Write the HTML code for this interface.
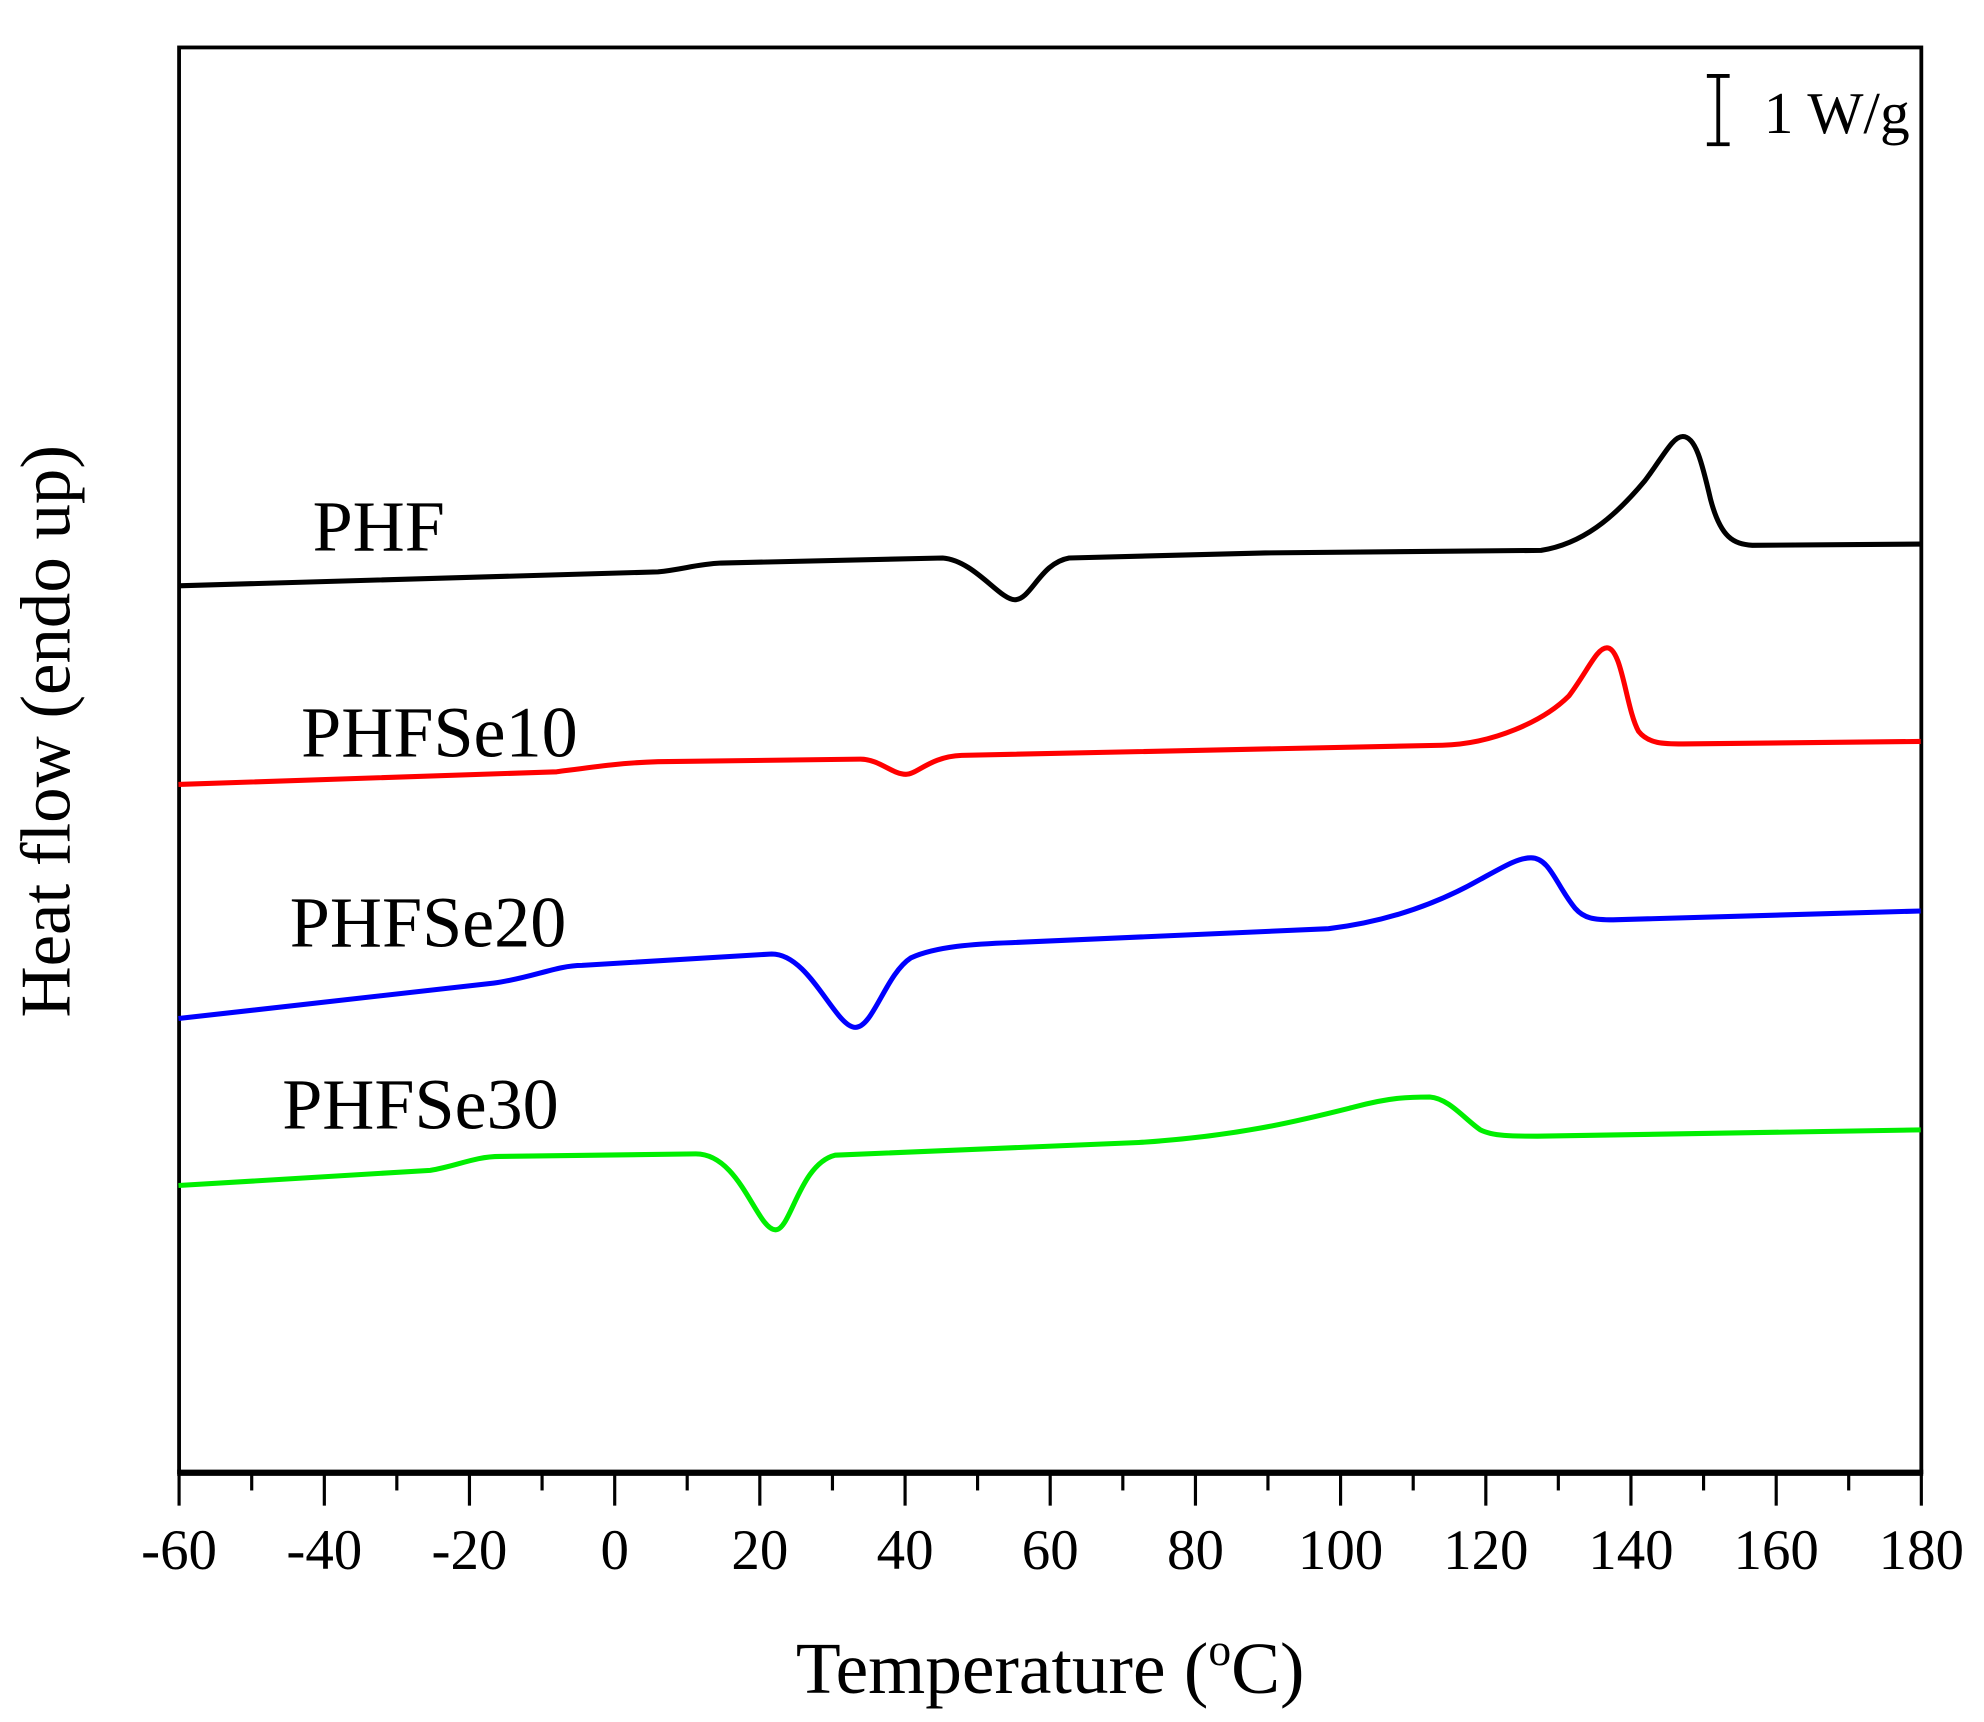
<!DOCTYPE html>
<html><head><meta charset="utf-8"><style>html,body{margin:0;padding:0;background:#fff}svg{display:block}</style></head>
<body>
<svg width="1984" height="1722" viewBox="0 0 1568 1361" xmlns="http://www.w3.org/2000/svg" font-family="'Liberation Serif', serif">
<rect x="0" y="0" width="1568" height="1361" fill="#fff"/>
<rect x="141.5" y="37.5" width="1377" height="1126" fill="none" stroke="#000" stroke-width="3"/>
<line x1="140" y1="1164" x2="1520" y2="1164" stroke="#000" stroke-width="5"/>
<g stroke="#000" stroke-width="2.5">
<line x1="141.5" y1="1164" x2="141.5" y2="1190"/><line x1="256.3" y1="1164" x2="256.3" y2="1190"/>
<line x1="371" y1="1164" x2="371" y2="1190"/><line x1="485.8" y1="1164" x2="485.8" y2="1190"/>
<line x1="600.5" y1="1164" x2="600.5" y2="1190"/><line x1="715.3" y1="1164" x2="715.3" y2="1190"/>
<line x1="830" y1="1164" x2="830" y2="1190"/><line x1="944.8" y1="1164" x2="944.8" y2="1190"/>
<line x1="1059.5" y1="1164" x2="1059.5" y2="1190"/><line x1="1174.3" y1="1164" x2="1174.3" y2="1190"/>
<line x1="1289" y1="1164" x2="1289" y2="1190"/><line x1="1403.8" y1="1164" x2="1403.8" y2="1190"/>
<line x1="1518.5" y1="1164" x2="1518.5" y2="1190"/>
<line x1="198.9" y1="1164" x2="198.9" y2="1178"/><line x1="313.6" y1="1164" x2="313.6" y2="1178"/>
<line x1="428.4" y1="1164" x2="428.4" y2="1178"/><line x1="543.1" y1="1164" x2="543.1" y2="1178"/>
<line x1="657.9" y1="1164" x2="657.9" y2="1178"/><line x1="772.6" y1="1164" x2="772.6" y2="1178"/>
<line x1="887.4" y1="1164" x2="887.4" y2="1178"/><line x1="1002.1" y1="1164" x2="1002.1" y2="1178"/>
<line x1="1116.9" y1="1164" x2="1116.9" y2="1178"/><line x1="1231.6" y1="1164" x2="1231.6" y2="1178"/>
<line x1="1346.4" y1="1164" x2="1346.4" y2="1178"/><line x1="1461.1" y1="1164" x2="1461.1" y2="1178"/>
</g>
<g font-size="45" text-anchor="middle" fill="#000">
<text x="141.5" y="1240">-60</text><text x="256.3" y="1240">-40</text><text x="371" y="1240">-20</text>
<text x="485.8" y="1240">0</text><text x="600.5" y="1240">20</text><text x="715.3" y="1240">40</text>
<text x="830" y="1240">60</text><text x="944.8" y="1240">80</text><text x="1059.5" y="1240">100</text>
<text x="1174.3" y="1240">120</text><text x="1289" y="1240">140</text><text x="1403.8" y="1240">160</text>
<text x="1518.5" y="1240">180</text>
</g>
<text x="830" y="1338" font-size="58" text-anchor="middle">Temperature (<tspan font-size="36" dy="-22">o</tspan><tspan dy="22">C)</tspan></text>
<text transform="translate(55,578) rotate(-90)" font-size="56" text-anchor="middle">Heat flow (endo up)</text>
<g stroke="#000" stroke-width="3">
<line x1="1358" y1="60" x2="1358" y2="114"/><line x1="1349" y1="60" x2="1367" y2="60"/><line x1="1349" y1="114" x2="1367" y2="114"/>
</g>
<text x="1394" y="105" font-size="47">1 W/g</text>
<g font-size="57" fill="#000">
<text x="247" y="435">PHF</text>
<text x="238" y="598">PHFSe10</text>
<text x="229" y="748">PHFSe20</text>
<text x="223" y="892">PHFSe30</text>
</g>
<g fill="none" stroke-width="4" stroke-linejoin="round">
<path stroke="#000" d="M141 463 L520 452 C540 450 550 446 570 445 L745 441 C770 443 790 474 802 474 C815 474 822 445 845 441 L1000 437 L1218 435 C1250 430 1275 410 1300 380 C1315 360 1322 345 1330 345 C1340 345 1345 365 1352 395 C1360 425 1370 430 1385 431 L1518 430"/>
<path stroke="#ff0000" d="M141 620 L440 610 C470 606 490 603 520 602 L680 600 C695 600 705 612 716 612 C725 612 735 598 760 597 L1140 589 C1180 588 1220 570 1240 550 C1255 530 1262 512 1270 512 C1282 512 1285 560 1295 578 C1303 588 1315 588 1330 588 L1518 586"/>
<path stroke="#0000ff" d="M141 805 L390 777 C420 773 440 763 460 763 L610 754 C640 754 660 812 676 812 C690 812 700 770 720 757 C740 748 770 746 800 745 L1050 734 C1100 728 1140 712 1170 695 C1190 684 1200 678 1210 678 C1225 678 1230 700 1245 718 C1252 726 1260 727 1275 727 L1518 720"/>
<path stroke="#00ee00" d="M141 937 L340 925 C360 922 375 914 395 914 L550 912 C585 912 598 972 613 972 C625 972 632 920 660 913 L900 903 C980 898 1030 885 1070 875 C1100 867 1115 867 1130 867 C1145 868 1158 885 1170 893 C1180 898 1195 898 1215 898 L1518 893"/>
</g>
</svg>
</body></html>
